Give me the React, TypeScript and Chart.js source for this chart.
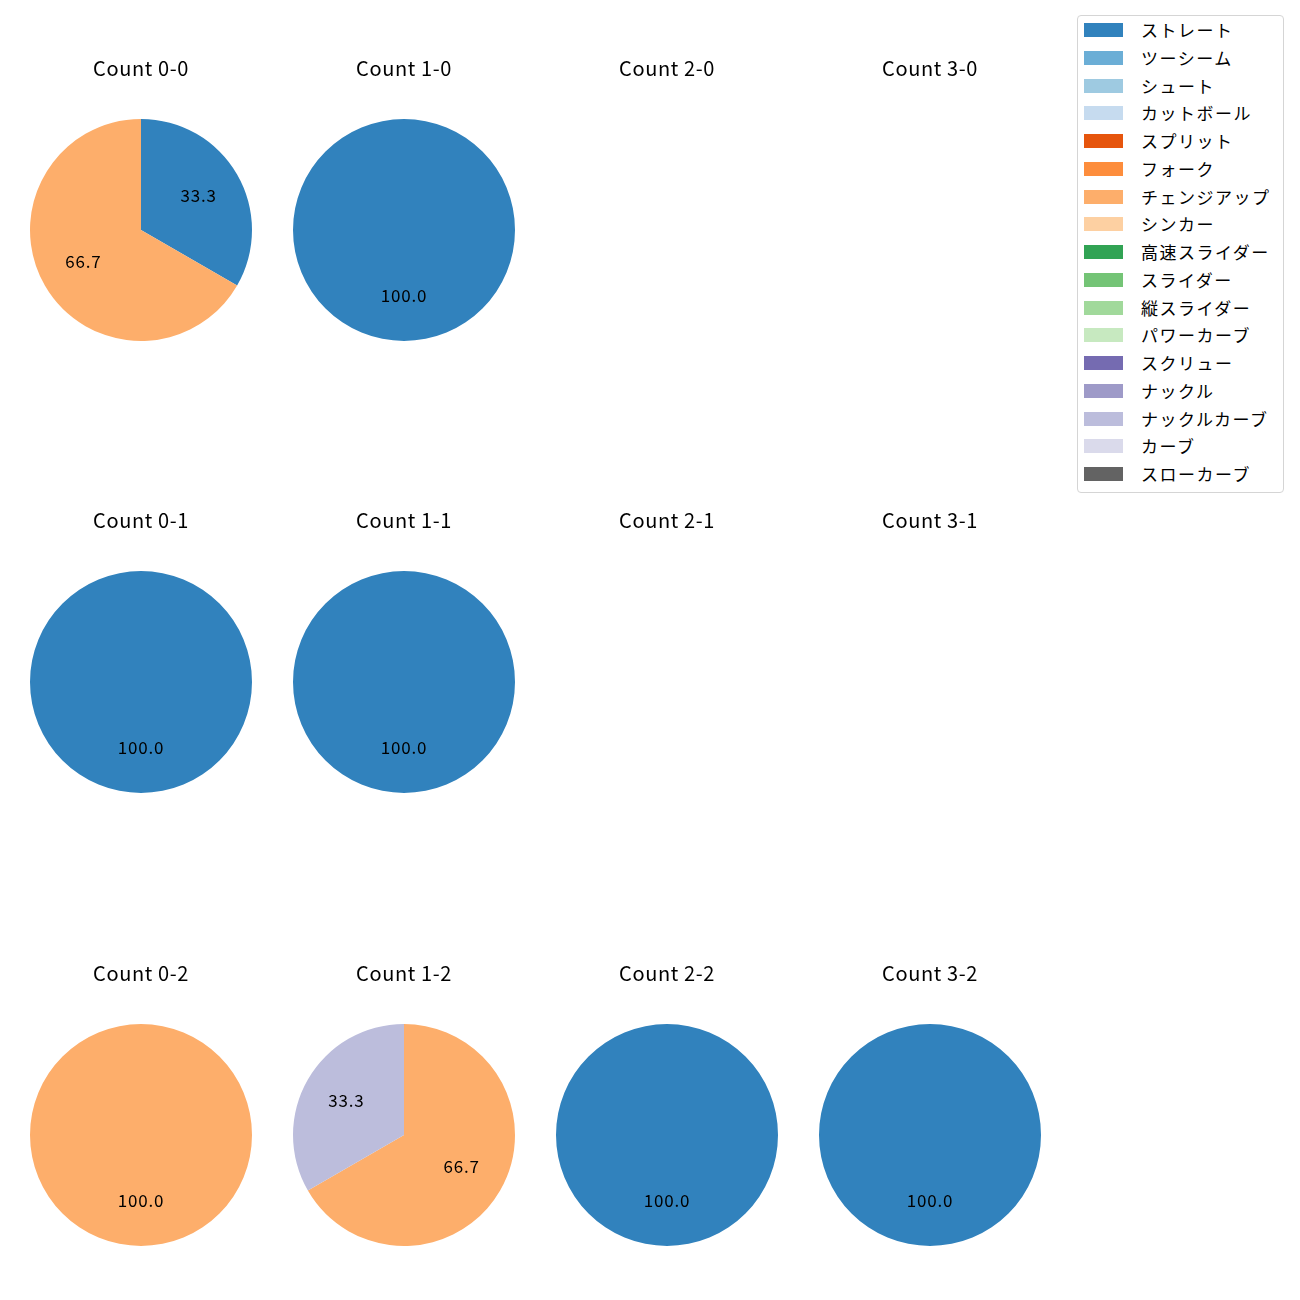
import React, { useEffect, useRef } from "react";
import { Chart, registerables } from "chart.js";

Chart.register(...registerables);

const pitchTypes = [
  "ストレート", "ツーシーム", "シュート", "カットボール", "スプリット", "フォーク",
  "チェンジアップ", "シンカー", "高速スライダー", "スライダー", "縦スライダー",
  "パワーカーブ", "スクリュー", "ナックル", "ナックルカーブ", "カーブ", "スローカーブ",
];
const pitchColors = [
  "#3182bd", "#6baed6", "#9ecae1", "#c6dbef", "#e6550d", "#fd8d3c",
  "#fdae6b", "#fdd0a2", "#31a354", "#74c476", "#a1d99b", "#c7e9c0",
  "#756bb1", "#9e9ac8", "#bcbddc", "#dadaeb", "#636363",
];

const panelTitles = [
  ["Count 0-0", "Count 1-0", "Count 2-0", "Count 3-0"],
  ["Count 0-1", "Count 1-1", "Count 2-1", "Count 3-1"],
  ["Count 0-2", "Count 1-2", "Count 2-2", "Count 3-2"],
];

// counts per pitch type (index into pitchTypes)
const count00 = [1, 0, 0, 0, 0, 0, 2, 0, 0, 0, 0, 0, 0, 0, 0, 0, 0];
const count10 = [1, 0, 0, 0, 0, 0, 0, 0, 0, 0, 0, 0, 0, 0, 0, 0, 0];
const count20 = [0, 0, 0, 0, 0, 0, 0, 0, 0, 0, 0, 0, 0, 0, 0, 0, 0];
const count30 = [0, 0, 0, 0, 0, 0, 0, 0, 0, 0, 0, 0, 0, 0, 0, 0, 0];
const count01 = [1, 0, 0, 0, 0, 0, 0, 0, 0, 0, 0, 0, 0, 0, 0, 0, 0];
const count11 = [1, 0, 0, 0, 0, 0, 0, 0, 0, 0, 0, 0, 0, 0, 0, 0, 0];
const count21 = [0, 0, 0, 0, 0, 0, 0, 0, 0, 0, 0, 0, 0, 0, 0, 0, 0];
const count31 = [0, 0, 0, 0, 0, 0, 0, 0, 0, 0, 0, 0, 0, 0, 0, 0, 0];
const count02 = [0, 0, 0, 0, 0, 0, 1, 0, 0, 0, 0, 0, 0, 0, 0, 0, 0];
const count12 = [0, 0, 0, 0, 0, 0, 2, 0, 0, 0, 0, 0, 0, 0, 1, 0, 0];
const count22 = [1, 0, 0, 0, 0, 0, 0, 0, 0, 0, 0, 0, 0, 0, 0, 0, 0];
const count32 = [1, 0, 0, 0, 0, 0, 0, 0, 0, 0, 0, 0, 0, 0, 0, 0, 0];

const panelData = [
  [count00, count10, count20, count30],
  [count01, count11, count21, count31],
  [count02, count12, count22, count32],
];

const FONT = "'Noto Sans CJK JP', 'Noto Sans', sans-serif";
const colX = [141, 404, 667, 930];
const rowY = [230, 682, 1135];
const R = 111;
const CW = 262;
const CH = 300;
const PAD_TOP = 69;

const labelPlugin = {
  id: "pieLabels",
  afterDatasetsDraw(chart: any) {
    const ctx = chart.ctx;
    const meta = chart.getDatasetMeta(0);
    const data = chart.data.datasets[0].data as number[];
    const total = data.reduce((a, b) => a + b, 0);
    if (!total) return;
    ctx.save();
    ctx.font = `17px ${FONT}`;
    try { (ctx as any).letterSpacing = "0.8px"; } catch (e) {}
    ctx.fillStyle = "#000";
    ctx.textAlign = "center";
    ctx.textBaseline = "middle";
    meta.data.forEach((arc: any, i: number) => {
      const v = data[i];
      if (!v) return;
      const { x, y, startAngle, endAngle, outerRadius } = arc.getProps(
        ["x", "y", "startAngle", "endAngle", "outerRadius"], true);
      const mid = (startAngle + endAngle) / 2;
      const r = outerRadius * 0.6;
      ctx.fillText(((v / total) * 100).toFixed(1), x + Math.cos(mid) * r, y + Math.sin(mid) * r - 1.5);
    });
    ctx.restore();
  },
};

const titlePlugin = {
  id: "panelTitle",
  afterDraw(chart: any, _args: any, opts: any) {
    const ctx = chart.ctx;
    ctx.save();
    ctx.font = `20px ${FONT}`;
    try { (ctx as any).letterSpacing = "0.6px"; } catch (e) {}
    ctx.fillStyle = "#000";
    ctx.textAlign = "center";
    ctx.textBaseline = "middle";
    ctx.fillText(opts.text, chart.width / 2, opts.y);
    ctx.restore();
  },
};

function Pie({ data, title, cx, cy }: { data: number[]; title: string; cx: number; cy: number }) {
  const ref = useRef<HTMLCanvasElement>(null);
  useEffect(() => {
    const chart = new Chart(ref.current!, {
      type: "pie",
      data: {
        labels: pitchTypes,
        datasets: [{ data, backgroundColor: pitchColors, borderWidth: 0 }],
      },
      options: {
        animation: false,
        responsive: false,
        layout: { padding: { top: PAD_TOP, left: (CW - 2 * R) / 2, right: (CW - 2 * R) / 2, bottom: CH - PAD_TOP - 2 * R } },
        plugins: {
          legend: { display: false },
          tooltip: { enabled: false },
          panelTitle: { text: title, y: PAD_TOP + R - 162 },
        } as any,
      },
      plugins: [labelPlugin, titlePlugin],
    });
    return () => chart.destroy();
  }, []);
  return (
    <canvas
      ref={ref}
      width={CW}
      height={CH}
      style={{ position: "absolute", left: cx - CW / 2, top: cy - PAD_TOP - R, width: CW, height: CH }}
    />
  );
}

export default function App() {
  return (
    <div style={{ position: "absolute", left: 0, top: 0, width: 1300, height: 1300, background: "#fff", fontFamily: FONT }}>
      {panelData.map((row, r) =>
        row.map((d, c) => (
          <Pie key={`${r}-${c}`} data={d} title={panelTitles[r][c]} cx={colX[c]} cy={rowY[r]} />
        ))
      )}
      <div
        style={{
          position: "absolute", left: 1077, top: 15, width: 207, height: 478,
          border: "1px solid #d5d5d5", borderRadius: 4, background: "#fff", boxSizing: "border-box",
        }}
      >
        {pitchTypes.map((name, i) => (
          <div key={name} style={{ position: "absolute", left: 0, top: 14 + i * 27.75 - 7, height: 14, width: 200 }}>
            <div style={{ position: "absolute", left: 6, top: 0, width: 39, height: 14, background: pitchColors[i] }} />
            <div style={{ position: "absolute", left: 63, top: -3, fontSize: 17, lineHeight: "20px", whiteSpace: "nowrap", color: "#000", letterSpacing: 1.5 }}>
              {name}
            </div>
          </div>
        ))}
      </div>
    </div>
  );
}
